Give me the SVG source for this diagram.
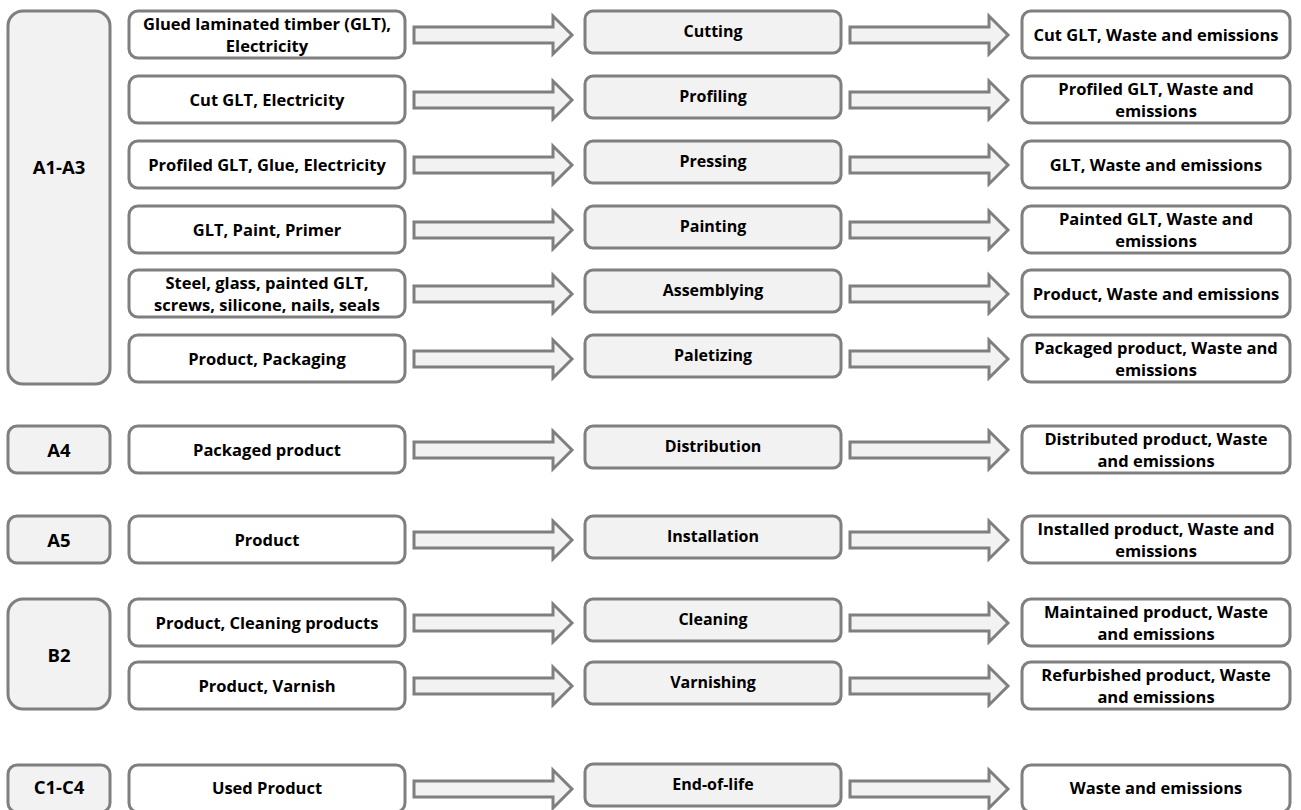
<svg xmlns="http://www.w3.org/2000/svg" xmlns:xlink="http://www.w3.org/1999/xlink" width="1301" height="810" viewBox="0 0 1301 810">
<style>
.stage{fill:#f2f2f2;stroke:#7f7f7f;stroke-width:3}
.inp{fill:#ffffff;stroke:#7f7f7f;stroke-width:3}
.proc{fill:#f2f2f2;stroke:#7f7f7f;stroke-width:3}
.arr{fill:#f2f2f2;stroke:#7f7f7f;stroke-width:3;stroke-linejoin:miter}
text{font-family:"Open Sans","Liberation Sans",sans-serif;font-weight:bold;font-size:16.5px;fill:#000;text-anchor:middle;dominant-baseline:central}
.pt{font-size:16px}
.st{font-size:18.5px}
</style>
<defs>
<path id="arrow" d="M0,-8 H139 V-19 L158,0 L139,19 V8 H0 Z"/>
</defs>
<rect width="1301" height="810" fill="#ffffff"/>

<g id="connectors">
<use xlink:href="#arrow" class="arr" x="414" y="35"/><use xlink:href="#arrow" class="arr" x="850" y="35"/>
<use xlink:href="#arrow" class="arr" x="414" y="100"/><use xlink:href="#arrow" class="arr" x="850" y="100"/>
<use xlink:href="#arrow" class="arr" x="414" y="165"/><use xlink:href="#arrow" class="arr" x="850" y="165"/>
<use xlink:href="#arrow" class="arr" x="414" y="230"/><use xlink:href="#arrow" class="arr" x="850" y="230"/>
<use xlink:href="#arrow" class="arr" x="414" y="294"/><use xlink:href="#arrow" class="arr" x="850" y="294"/>
<use xlink:href="#arrow" class="arr" x="414" y="359"/><use xlink:href="#arrow" class="arr" x="850" y="359"/>
<use xlink:href="#arrow" class="arr" x="414" y="450"/><use xlink:href="#arrow" class="arr" x="850" y="450"/>
<use xlink:href="#arrow" class="arr" x="414" y="540"/><use xlink:href="#arrow" class="arr" x="850" y="540"/>
<use xlink:href="#arrow" class="arr" x="414" y="623"/><use xlink:href="#arrow" class="arr" x="850" y="623"/>
<use xlink:href="#arrow" class="arr" x="414" y="686"/><use xlink:href="#arrow" class="arr" x="850" y="686"/>
<use xlink:href="#arrow" class="arr" x="414" y="789"/><use xlink:href="#arrow" class="arr" x="850" y="789"/>
</g>

<g id="stage-A1-A3"><rect class="stage" x="8" y="11" width="102" height="373" rx="15"/><text class="st" x="59" y="166">A1-A3</text></g>
<g id="stage-A4"><rect class="stage" x="8" y="426" width="102" height="47" rx="9"/><text class="st" x="59" y="449">A4</text></g>
<g id="stage-A5"><rect class="stage" x="8" y="516" width="102" height="47" rx="9"/><text class="st" x="59" y="539">A5</text></g>
<g id="stage-B2"><rect class="stage" x="8" y="599" width="102" height="110" rx="15"/><text class="st" x="59" y="654">B2</text></g>
<g id="stage-C1-C4"><rect class="stage" x="8" y="765" width="102" height="47" rx="9"/><text class="st" x="59" y="786">C1-C4</text></g>

<g id="in-1"><rect class="inp" x="129" y="11" width="276" height="47" rx="9"/><text x="267" y="23">Glued laminated timber (GLT),</text><text x="267" y="45">Electricity</text></g>
<g id="in-2"><rect class="inp" x="129" y="76" width="276" height="47" rx="9"/><text x="267" y="99">Cut GLT, Electricity</text></g>
<g id="in-3"><rect class="inp" x="129" y="141" width="276" height="47" rx="9"/><text x="267" y="164">Profiled GLT, Glue, Electricity</text></g>
<g id="in-4"><rect class="inp" x="129" y="206" width="276" height="47" rx="9"/><text x="267" y="229">GLT, Paint, Primer</text></g>
<g id="in-5"><rect class="inp" x="129" y="270" width="276" height="47" rx="9"/><text x="267" y="282">Steel, glass, painted GLT,</text><text x="267" y="304">screws, silicone, nails, seals</text></g>
<g id="in-6"><rect class="inp" x="129" y="335" width="276" height="47" rx="9"/><text x="267" y="358">Product, Packaging</text></g>
<g id="in-A4"><rect class="inp" x="129" y="426" width="276" height="47" rx="9"/><text x="267" y="449">Packaged product</text></g>
<g id="in-A5"><rect class="inp" x="129" y="516" width="276" height="47" rx="9"/><text x="267" y="539">Product</text></g>
<g id="in-B2a"><rect class="inp" x="129" y="599" width="276" height="47" rx="9"/><text x="267" y="622">Product, Cleaning products</text></g>
<g id="in-B2b"><rect class="inp" x="129" y="662" width="276" height="47" rx="9"/><text x="267" y="685">Product, Varnish</text></g>
<g id="in-C"><rect class="inp" x="129" y="765" width="276" height="47" rx="9"/><text x="267" y="787">Used Product</text></g>

<g id="proc-cutting"><rect class="proc" x="585" y="11" width="256" height="42" rx="8"/><text class="pt" x="713" y="31">Cutting</text></g>
<g id="proc-profiling"><rect class="proc" x="585" y="76" width="256" height="42" rx="8"/><text class="pt" x="713" y="96">Profiling</text></g>
<g id="proc-pressing"><rect class="proc" x="585" y="141" width="256" height="42" rx="8"/><text class="pt" x="713" y="161">Pressing</text></g>
<g id="proc-painting"><rect class="proc" x="585" y="206" width="256" height="42" rx="8"/><text class="pt" x="713" y="226">Painting</text></g>
<g id="proc-assemblying"><rect class="proc" x="585" y="270" width="256" height="42" rx="8"/><text class="pt" x="713" y="290">Assemblying</text></g>
<g id="proc-paletizing"><rect class="proc" x="585" y="335" width="256" height="42" rx="8"/><text class="pt" x="713" y="355">Paletizing</text></g>
<g id="proc-distribution"><rect class="proc" x="585" y="426" width="256" height="42" rx="8"/><text class="pt" x="713" y="446">Distribution</text></g>
<g id="proc-installation"><rect class="proc" x="585" y="516" width="256" height="42" rx="8"/><text class="pt" x="713" y="536">Installation</text></g>
<g id="proc-cleaning"><rect class="proc" x="585" y="599" width="256" height="42" rx="8"/><text class="pt" x="713" y="619">Cleaning</text></g>
<g id="proc-varnishing"><rect class="proc" x="585" y="662" width="256" height="42" rx="8"/><text class="pt" x="713" y="682">Varnishing</text></g>
<g id="proc-eol"><rect class="proc" x="585" y="764" width="256" height="42" rx="8"/><text class="pt" x="713" y="784">End-of-life</text></g>

<g id="out-1"><rect class="inp" x="1022" y="11" width="268" height="47" rx="9"/><text x="1156" y="34">Cut GLT, Waste and emissions</text></g>
<g id="out-2"><rect class="inp" x="1022" y="76" width="268" height="47" rx="9"/><text x="1156" y="88">Profiled GLT, Waste and</text><text x="1156" y="110">emissions</text></g>
<g id="out-3"><rect class="inp" x="1022" y="141" width="268" height="47" rx="9"/><text x="1156" y="164">GLT, Waste and emissions</text></g>
<g id="out-4"><rect class="inp" x="1022" y="206" width="268" height="47" rx="9"/><text x="1156" y="218">Painted GLT, Waste and</text><text x="1156" y="240">emissions</text></g>
<g id="out-5"><rect class="inp" x="1022" y="270" width="268" height="47" rx="9"/><text x="1156" y="293">Product, Waste and emissions</text></g>
<g id="out-6"><rect class="inp" x="1022" y="335" width="268" height="47" rx="9"/><text x="1156" y="347">Packaged product, Waste and</text><text x="1156" y="369">emissions</text></g>
<g id="out-A4"><rect class="inp" x="1022" y="426" width="268" height="47" rx="9"/><text x="1156" y="438">Distributed product, Waste</text><text x="1156" y="460">and emissions</text></g>
<g id="out-A5"><rect class="inp" x="1022" y="516" width="268" height="47" rx="9"/><text x="1156" y="528">Installed product, Waste and</text><text x="1156" y="550">emissions</text></g>
<g id="out-B2a"><rect class="inp" x="1022" y="599" width="268" height="47" rx="9"/><text x="1156" y="611">Maintained product, Waste</text><text x="1156" y="633">and emissions</text></g>
<g id="out-B2b"><rect class="inp" x="1022" y="662" width="268" height="47" rx="9"/><text x="1156" y="674">Refurbished product, Waste</text><text x="1156" y="696">and emissions</text></g>
<g id="out-C"><rect class="inp" x="1022" y="765" width="268" height="47" rx="9"/><text x="1156" y="787">Waste and emissions</text></g>
</svg>
